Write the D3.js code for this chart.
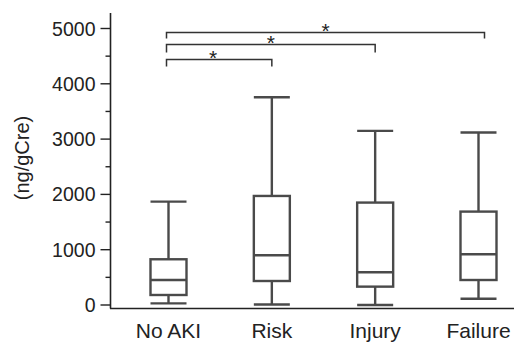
<!DOCTYPE html>
<html>
<head>
<meta charset="utf-8">
<script src="https://cdn.jsdelivr.net/npm/d3@7"></script>
<style>
  body { margin: 0; background: #fff; }
  svg { display: block; font-family: "Liberation Sans", Arial, sans-serif; }
</style>
</head>
<body>
<svg id="chart" width="514" height="343"></svg>
<script>
const groups = ["No AKI", "Risk", "Injury", "Failure"];
const whiskerLow = [30, 10, 0, 114];
const q1 = [181, 434, 332, 452];
const median = [452, 899, 592, 917];
const q3 = [827, 1972, 1852, 1689];
const whiskerHigh = [1870, 3758, 3149, 3118];
const yTicks = [0, 1000, 2000, 3000, 4000, 5000];
const comparisons = [["No AKI", "Risk"], ["No AKI", "Injury"], ["No AKI", "Failure"]];
const sigLabels = ["*", "*", "*"];

const svg = d3.select("#chart");
const stroke = "#4a4a4a";

const x = d3.scalePoint().domain(groups).range([168.5, 478.5]);
const y = d3.scaleLinear().domain([0, 5000]).range([305, 28.5]);

// y axis
const yAxis = svg.append("g").attr("transform", "translate(110.5,0)");
yAxis.append("line")
  .attr("x1", 0).attr("x2", 0).attr("y1", 13).attr("y2", 308.5)
  .attr("stroke", "#222").attr("stroke-width", 1.6);
yAxis.selectAll(".minor")
  .data(d3.range(500, 5000, 1000))
  .join("line")
  .attr("x1", -5).attr("x2", 0)
  .attr("y1", (d) => y(d)).attr("y2", (d) => y(d))
  .attr("stroke", "#222").attr("stroke-width", 1.4);
const tk = yAxis.selectAll(".tick").data(yTicks).join("g")
  .attr("transform", (d) => `translate(0,${y(d)})`);
tk.append("line").attr("x1", -10).attr("x2", 0)
  .attr("stroke", "#222").attr("stroke-width", 1.4);
tk.append("text")
  .attr("x", -15).attr("dy", "0.36em")
  .attr("text-anchor", "end")
  .attr("font-size", 19.5).attr("fill", "#222")
  .text((d) => d);

// x axis
svg.append("line")
  .attr("x1", 110).attr("x2", 514).attr("y1", 308.5).attr("y2", 308.5)
  .attr("stroke", "#222").attr("stroke-width", 1.6);
svg.selectAll(".xlab").data(groups).join("text")
  .attr("x", (d) => x(d)).attr("y", 338)
  .attr("text-anchor", "middle")
  .attr("font-size", 21).attr("fill", "#222")
  .text((d) => d);

// axis title
svg.append("text")
  .attr("transform", "translate(29,158) rotate(-90)")
  .attr("text-anchor", "middle")
  .attr("font-size", 20).attr("fill", "#222")
  .text("(ng/gCre)");

// boxes
const bw = 36;
const box = svg.selectAll(".box").data(groups).join("g")
  .attr("fill", "none").attr("stroke", stroke).attr("stroke-width", 2.4);
box.append("line")
  .attr("x1", (d) => x(d)).attr("x2", (d) => x(d))
  .attr("y1", (d, i) => y(whiskerHigh[i])).attr("y2", (d, i) => y(whiskerLow[i]));
box.append("rect")
  .attr("x", (d) => x(d) - bw / 2).attr("width", bw)
  .attr("y", (d, i) => y(q3[i]))
  .attr("height", (d, i) => y(q1[i]) - y(q3[i]))
  .attr("fill", "#fff");
box.append("line")
  .attr("x1", (d) => x(d) - bw / 2).attr("x2", (d) => x(d) + bw / 2)
  .attr("y1", (d, i) => y(median[i])).attr("y2", (d, i) => y(median[i]));
box.append("line")
  .attr("x1", (d) => x(d) - bw / 2).attr("x2", (d) => x(d) + bw / 2)
  .attr("y1", (d, i) => y(whiskerHigh[i])).attr("y2", (d, i) => y(whiskerHigh[i]));
box.append("line")
  .attr("x1", (d) => x(d) - bw / 2).attr("x2", (d) => x(d) + bw / 2)
  .attr("y1", (d, i) => y(whiskerLow[i])).attr("y2", (d, i) => y(whiskerLow[i]));

// significance brackets
const bracketY = [59.5, 44.5, 32.5];
const drop = [7, 8, 6];
comparisons.forEach(([a, b], i) => {
  const x1 = x(a) - 2, x2 = x(b) + (i === 2 ? 6 : 0);
  svg.append("path")
    .attr("d", `M${x1},${bracketY[i] + drop[i]}V${bracketY[i]}H${x2}V${bracketY[i] + drop[i]}`)
    .attr("fill", "none").attr("stroke", "#333").attr("stroke-width", 1.5);
  svg.append("text")
    .attr("x", (x1 + x2) / 2 - (i === 0 ? 6 : 0)).attr("y", bracketY[i] + 5)
    .attr("text-anchor", "middle")
    .attr("font-size", 21).attr("fill", "#222")
    .text(sigLabels[i]);
});
</script>
</body>
</html>
